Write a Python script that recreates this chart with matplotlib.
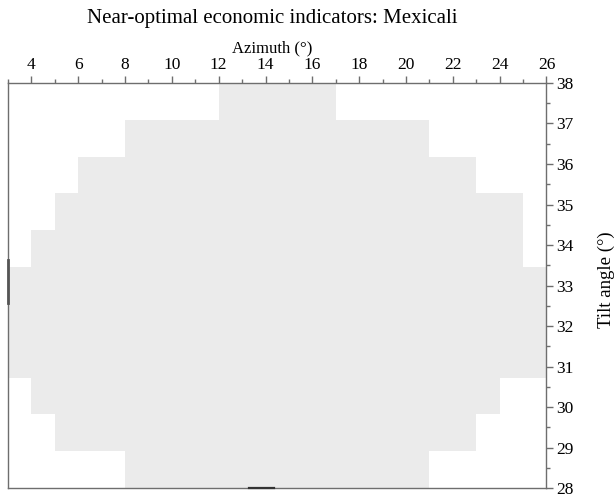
import numpy as np
import matplotlib
matplotlib.use("Agg")
import matplotlib.pyplot as plt

plt.rcParams["font.family"] = ["Liberation Serif", "DejaVu Serif"]

# tilt-angle rows (11 equal bands between 28 and 38) and azimuth extent of the
# near-optimal region in each band, listed bottom to top
tilt_edges = np.linspace(28, 38, 12)
az_left = [8, 5, 4, 3, 3, 3, 4, 5, 6, 8, 12]
az_right = [21, 23, 24, 26, 26, 26, 25, 25, 23, 21, 17]

# short darker marks sitting on the left / bottom frame
left_mark = [32.57, 33.63]
bottom_mark = [13.3, 14.35]

xticks = list(range(4, 27, 2))
yticks = list(range(28, 39))

fig = plt.figure(figsize=(6.14, 4.94), dpi=100)
ax = fig.add_axes([0.013, 0.012, 0.877, 0.820])

lo = tilt_edges[:-1]
h = np.diff(tilt_edges)
for y0, hh, l, r in zip(lo, h, az_left, az_right):
    ax.barh(y0, r - l, left=l, height=hh, align="edge",
            color="#ebebeb", edgecolor="none", lw=0)

ax.plot([3, 3], left_mark, color="#555555", lw=2.0, clip_on=False, zorder=5)
ax.plot(bottom_mark, [28, 28], color="#333333", lw=1.6, clip_on=False, zorder=5)

ax.set_xlim(3, 26)
ax.set_ylim(28, 38)

ax.xaxis.tick_top()
ax.xaxis.set_label_position("top")
ax.yaxis.tick_right()
ax.yaxis.set_label_position("right")

ax.set_xticks(xticks)
ax.set_xticks(np.arange(3, 26, 2), minor=True)
ax.set_yticks(yticks)
ax.set_yticks(np.arange(28.5, 38, 1), minor=True)

for sp in ax.spines.values():
    sp.set_color("#6e6e6e")
    sp.set_linewidth(1.0)

ax.tick_params(which="major", direction="out", length=5, width=1.0,
               color="#6e6e6e", labelsize=12.5, pad=2)
ax.tick_params(which="minor", direction="out", length=3, width=1.0,
               color="#6e6e6e")

ax.set_xlabel("Azimuth (°)", fontsize=12, labelpad=5)
ax.xaxis.set_label_coords(0.490, 1.075)
ax.set_ylabel("Tilt angle (°)", fontsize=13.5)
ax.yaxis.set_label_coords(1.0956, 0.514)

fig.text(272 / 614, 1 - 23 / 494, "Near-optimal economic indicators: Mexicali",
         fontsize=15, ha="center", va="baseline")

fig.savefig("out.png", dpi=100)
